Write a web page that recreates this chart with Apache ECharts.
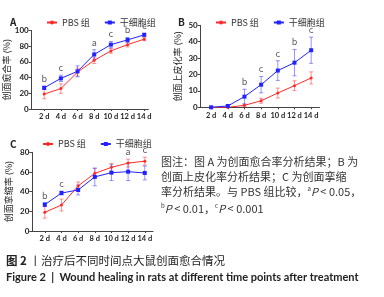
<!DOCTYPE html>
<html>
<head>
<meta charset="utf-8">
<script src="https://cdn.jsdelivr.net/npm/echarts@6.0.0/dist/echarts.min.js"></script>
<style>
  html, body { margin: 0; padding: 0; background: #fff; }
  #main { width: 384px; height: 297px; }
</style>
</head>
<body>
<div id="main"></div>
<script>
// 数据
const days = [2, 4, 6, 8, 10, 12, 14];
const dayLabels = ['2 d', '4 d', '6 d', '8 d', '10 d', '12 d', '14 d'];

// A 创面愈合率
const healPbs = [19, 26, 47, 62, 74, 82, 89];
const healPbsErr = [6, 6, 5, 4, 3, 3, 2];
const healStem = [27, 39, 48, 69.5, 82, 88, 94.5];
const healStemErr = [2, 4, 7, 6, 4, 3, 2];
const healSig = ['b', 'c', '', 'a', 'c', 'b', 'c'];

// B 创面上皮化率
const epiPbs = [0, 0, 1.2, 4, 8.7, 13.2, 17.9];
const epiPbsErr = [0.3, 0.3, 0.8, 1.5, 3, 3, 3.7];
const epiStem = [0, 0.8, 6.5, 13.8, 22.4, 27.2, 34.8];
const epiStemErr = [0.3, 0.5, 4.5, 5, 6, 8, 8];
const epiSig = ['', '', 'b', 'c', 'c', 'b', 'c'];

// C 创面挛缩率
const conPbs = [19, 26.4, 45.8, 58.6, 64.7, 69, 71];
const conPbsErr = [6, 6, 4, 5, 4, 4, 4];
const conStem = [26.8, 38.6, 41.7, 55, 59.3, 60.3, 59];
const conStemErr = [2, 2, 5, 9, 8, 9, 7];
const conSig = ['b', 'c', '', '', '', 'a', 'c'];

const RED = '#ff2a2a';
const BLUE = '#2222ff';
const FONT = 'Noto Sans CJK SC';
const chart = echarts.init(document.getElementById('main'));

const grids = [
  { left: 31.7, top: 30.5, width: 116.7, height: 78.5 },
  { left: 200.7, top: 25.3, width: 118.8, height: 82 },
  { left: 32.3, top: 152.3, width: 120.8, height: 78.7 }
];
const xRanges = [[0.5, 14.5], [0.75, 15], [0.5, 15]];
const yAxes = [
  { max: 100, interval: 20, name: '创面愈合率 (%)', gap: 19 },
  { max: 50, interval: 10, name: '创面上皮化率 (%)', gap: 19 },
  { max: 80, interval: 20, name: '创面挛缩率 (%)', gap: 19 }
];
const panels = [
  { pbs: healPbs, pbsErr: healPbsErr, stem: healStem, stemErr: healStemErr, sig: healSig },
  { pbs: epiPbs, pbsErr: epiPbsErr, stem: epiStem, stemErr: epiStemErr, sig: epiSig },
  { pbs: conPbs, pbsErr: conPbsErr, stem: conStem, stemErr: conStemErr, sig: conSig }
];

const errRender = (color) => (params, api) => {
  const x = api.value(0);
  const top = api.coord([x, api.value(2)]);
  const bot = api.coord([x, api.value(1)]);
  const w = 2;
  const style = { stroke: color, lineWidth: 1 };
  return {
    type: 'group',
    children: [
      { type: 'line', shape: { x1: top[0], y1: top[1], x2: bot[0], y2: bot[1] }, style },
      { type: 'line', shape: { x1: top[0] - w, y1: top[1], x2: top[0] + w, y2: top[1] }, style },
      { type: 'line', shape: { x1: bot[0] - w, y1: bot[1], x2: bot[0] + w, y2: bot[1] }, style }
    ]
  };
};

const xAxis = grids.map((g, i) => ({
  type: 'value', gridIndex: i, min: xRanges[i][0], max: xRanges[i][1],
  axisLine: { lineStyle: { color: '#444', width: 1 } },
  axisTick: { customValues: days, length: 2, lineStyle: { color: '#444' } },
  axisLabel: {
    customValues: days, margin: 4, fontSize: 7.5, color: '#222', fontWeight: 'bold', fontFamily: 'Lato',
    formatter: (v) => dayLabels[days.indexOf(v)]
  },
  splitLine: { show: false }
}));

const yAxis = yAxes.map((a, i) => ({
  type: 'value', gridIndex: i, min: 0, max: a.max, interval: a.interval,
  name: a.name, nameLocation: 'middle', nameGap: a.gap,
  nameTextStyle: { fontSize: 9, color: '#222', fontFamily: FONT },
  axisLine: { show: true, lineStyle: { color: '#444', width: 1 } },
  axisTick: { show: true, length: 3, lineStyle: { color: '#444' } },
  axisLabel: { margin: 3, fontSize: 8, color: '#222', fontWeight: 'bold', fontFamily: 'Lato' },
  splitLine: { show: false }
}));

const series = [];
panels.forEach((p, i) => {
  series.push({
    type: 'custom', xAxisIndex: i, yAxisIndex: i, renderItem: errRender('rgba(255,60,60,0.55)'),
    data: days.map((d, k) => [d, p.pbs[k] - p.pbsErr[k], p.pbs[k] + p.pbsErr[k]]), z: 1
  });
  series.push({
    type: 'custom', xAxisIndex: i, yAxisIndex: i, renderItem: errRender('rgba(60,60,255,0.55)'),
    data: days.map((d, k) => [d, p.stem[k] - p.stemErr[k], p.stem[k] + p.stemErr[k]]), z: 1
  });
  series.push({
    name: 'PBS 组', type: 'line', xAxisIndex: i, yAxisIndex: i,
    data: days.map((d, k) => [d, p.pbs[k]]),
    symbol: 'circle', symbolSize: 3, color: RED, lineStyle: { width: 1 }, z: 3
  });
  series.push({
    name: '干细胞组', type: 'line', xAxisIndex: i, yAxisIndex: i,
    data: days.map((d, k) => [d, p.stem[k]]),
    symbol: 'rect', symbolSize: 4, color: BLUE, lineStyle: { width: 1 }, z: 4
  });
  // 显著性标记
  series.push({
    type: 'scatter', xAxisIndex: i, yAxisIndex: i, symbolSize: 0, silent: true,
    data: days.map((d, k) => [d, Math.max(p.pbs[k] + p.pbsErr[k], p.stem[k] + p.stemErr[k])]),
    label: {
      show: true, position: 'top', distance: 3, fontSize: 9, color: '#2a2a3a', fontFamily: FONT,
      formatter: (prm) => p.sig[prm.dataIndex]
    }
  });
});

const legendBase = {
  data: ['PBS 组', '干细胞组'], padding: 0, itemWidth: 10, itemHeight: 5, itemGap: 14,
  textStyle: { fontSize: 9, color: '#333', fontFamily: FONT }
};

const sup = { fontSize: 6, verticalAlign: 'top', fill: '#333', fontFamily: FONT };
const it = { fontStyle: 'italic', fontSize: 11, fill: '#333', fontFamily: FONT };
const capStyle = (y, text) => ({
  type: 'text', left: 161, top: y,
  style: { text, fill: '#333', font: '11px "Noto Sans CJK SC"', rich: { sup, it } }
});

chart.setOption({
  animation: false,
  grid: grids,
  xAxis, yAxis, series,
  legend: [
    Object.assign({ left: 46, top: 18 }, legendBase),
    Object.assign({ left: 215, top: 18 }, legendBase),
    Object.assign({ left: 42, top: 139.5 }, legendBase)
  ],
  graphic: [
    { type: 'text', left: 10, top: 17, style: { text: 'A', font: 'bold 10px "Noto Sans CJK SC"', fill: '#222' } },
    { type: 'text', left: 178, top: 17, style: { text: 'B', font: 'bold 10px "Noto Sans CJK SC"', fill: '#222' } },
    { type: 'text', left: 10, top: 139, style: { text: 'C', font: 'bold 10px "Noto Sans CJK SC"', fill: '#222' } },
    capStyle(156, '图注：图 A 为创面愈合率分析结果；B 为'),
    capStyle(171, '创面上皮化率分析结果；C 为创面挛缩'),
    capStyle(186, '率分析结果。与 PBS 组比较，{sup|a}{it|P} < 0.05，'),
    capStyle(203, '{sup|b}{it|P} < 0.01，{sup|c}{it|P} < 0.001'),
    {
      type: 'text', left: 6, top: 255,
      style: {
        text: '{b|图 2} 丨治疗后不同时间点大鼠创面愈合情况', fill: '#222', font: '11.5px "Noto Sans CJK SC"',
        rich: { b: { fontWeight: 'bold', fontSize: 11.5, fontFamily: FONT, fill: '#222' } }
      }
    },
    {
      type: 'text', left: 6, top: 272,
      style: { text: 'Figure 2  |  Wound healing in rats at different time points after treatment', fill: '#222', font: 'bold 11px Lato' }
    }
  ]
});
</script>
</body>
</html>
